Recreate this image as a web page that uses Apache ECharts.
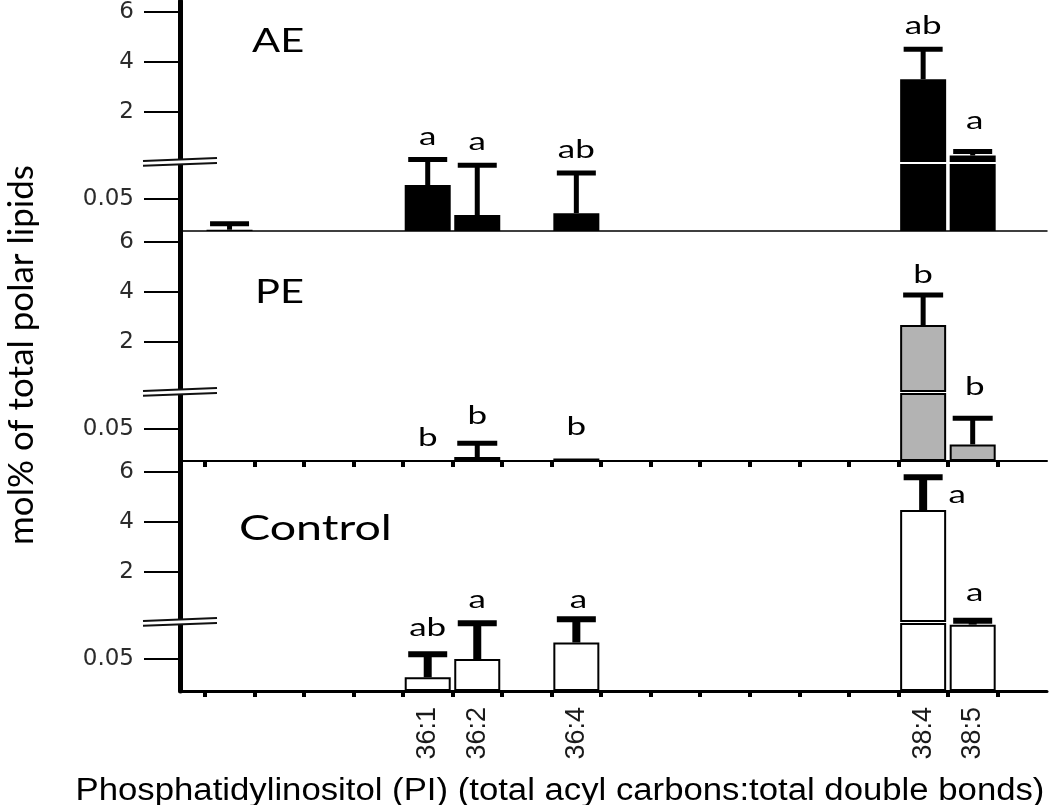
<!DOCTYPE html>
<html><head><meta charset="utf-8">
<script src="https://cdn.jsdelivr.net/npm/echarts@6/dist/echarts.min.js"></script>
<style>html,body{margin:0;padding:0;background:#fff}#c{width:1050px;height:805px}</style>
</head><body><div id="c"></div>
<script>
// ---------------- DATA ----------------
// category slots along the x axis (only some are labelled in the figure)
const categoryLabels = ['', '', '', '', '36:1', '36:2', '', '36:4', '', '', '', '', '', '', '38:4', '38:5'];
const panelNames = ['AE', 'PE', 'Control'];
// means (mol%) and top of error bar (mean + SD)
const aeMean  = [0.002, null, null, null, 0.072, 0.025, null, 0.028, null, null, null, null, null, null, 3.31, 0.26];
const aeErr   = [0.0115, null, null, null, 0.112, 0.103, null, 0.091, null, null, null, null, null, null, 4.51, 0.42];
const aeLetters = ['', '', '', '', 'a', 'a', '', 'ab', '', '', '', '', '', '', 'ab', 'a'];
const peMean  = [null, null, null, null, null, 0.0063, null, 0.004, null, null, null, null, null, null, 2.68, 0.026];
const peErr   = [null, null, null, null, null, 0.028, null, null, null, null, null, null, null, null, 3.88, 0.067];
const peLetters = ['', '', '', '', 'b', 'b', '', 'b', '', '', '', '', '', '', 'b', 'b'];
const ctlMean = [null, null, null, null, 0.0215, 0.050, null, 0.076, null, null, null, null, null, null, 4.48, 0.104];
const ctlErr  = [null, null, null, null, 0.0575, 0.106, null, 0.1124, null, null, null, null, null, null, 5.79, 0.110];
const ctlLetters = ['', '', '', '', 'ab', 'a', '', 'a', '', '', '', '', '', '', 'a', 'a'];
const yTicksLower = [0.05];
const yTicksUpper = [2, 4, 6];
const xTitle = 'Phosphatidylinositol (PI) (total acyl carbons:total double bonds)';
const yTitle = 'mol% of total polar lipids';

// ---------------- LAYOUT / STYLE ----------------
const L = {
  left: 180, right: 3, base: [231, 461, 691], lowerH: 67, gap: 2, panelH: 230,
  lowerMax: 0.105, upperMax: 6.44, xMax: 17.5
};
const barStyles = [
  {color: '#000', borderColor: '#000', borderWidth: 0},
  {color: '#b3b3b3', borderColor: '#000', borderWidth: 2},
  {color: '#fff', borderColor: '#000', borderWidth: 2}
];
const errStyles = [{stem: 5, capW: 5, cap: 39}, {stem: 5, capW: 5, cap: 40}, {stem: 8, capW: 6, cap: 39}];
const xLineW = [1.5, 2, 3];
// pixel nudges for significance letters [dx, dy(up)]
const letterNudge = [
  {15: [2, 8]},
  {5: [0, 4], 7: [0, 9], 14: [0, -3], 15: [2, 8]},
  {4: [0, 3], 7: [2, -4], 14: [34, -41], 15: [2, 5]}
];
// [left, baseline, fontSize, scaleX]
const panelLabelPos = [[252, 52, 32, 1.3], [255, 303, 32, 1.3], [239, 540, 34, 1.37]];
const LETTER_FS = 25, LETTER_SX = 1.4, LETTER_GAP = 15;

const means = [aeMean, peMean, ctlMean];
const errs = [aeErr, peErr, ctlErr];
const letters = [aeLetters, peLetters, ctlLetters];

const tickVals = categoryLabels.map((_, i) => i + 0.5).concat([categoryLabels.length + 0.5]);
const labelVals = categoryLabels.map((s, i) => s ? i + 1 : null).filter(v => v !== null);

const grids = [], xAxes = [], yAxes = [], series = [];
L.base.forEach((b, p) => {
  grids.push({left: L.left, right: L.right, top: b - L.lowerH, height: L.lowerH, outerBoundsMode: 'none'});
  grids.push({left: L.left, right: L.right, top: b - L.panelH, height: L.panelH - L.lowerH - L.gap, outerBoundsMode: 'none'});
  [0, 1].forEach(k => {
    const gi = p * 2 + k, lower = k === 0;
    xAxes.push({
      type: 'value', gridIndex: gi, min: 0, max: L.xMax, show: lower,
      axisLine: {show: lower, onZero: false, lineStyle: {color: '#000', width: xLineW[p]}},
      axisTick: {show: lower && p > 0, customValues: tickVals, length: 6, lineStyle: {color: '#000', width: 4}},
      axisLabel: {show: lower && p === 2, customValues: labelVals, rotate: 90, margin: 16,
        formatter: v => categoryLabels[Math.round(v) - 1] || '',
        fontFamily: 'Liberation Sans', fontSize: 27, color: '#1a1a1a'},
      splitLine: {show: false}
    });
    yAxes.push({
      type: 'value', gridIndex: gi, min: 0, max: lower ? L.lowerMax : L.upperMax,
      axisLine: {show: true, onZero: false, lineStyle: {color: '#000', width: 5}},
      axisTick: {show: true, customValues: lower ? yTicksLower : yTicksUpper, length: 36, lineStyle: {color: '#000', width: 2}},
      axisLabel: {show: true, customValues: lower ? yTicksLower : yTicksUpper, margin: 46,
        fontFamily: 'DejaVu Sans', fontSize: 23, color: '#2b2b2b', formatter: v => String(v)},
      splitLine: {show: false}
    });
  });

  const m = means[p], e = errs[p], lt = letters[p];
  const lowBars = [], upBars = [], lowErr = [], upErr = [], lowLet = [], upLet = [];
  m.forEach((v, i) => {
    const x = i + 1;
    if (v !== null) {
      lowBars.push([x, v]);
      if (v > L.lowerMax) upBars.push([x, v]);
    }
    const inUpper = v !== null && v > L.lowerMax;
    if (e[i] !== null) (inUpper ? upErr : lowErr).push([x, e[i], v === null ? 0 : v]);
    if (lt[i]) {
      const anchor = e[i] !== null ? e[i] : (v !== null ? v : 0);
      (inUpper ? upLet : lowLet).push([x, anchor, i]);
    }
  });
  const bs = barStyles[p];
  [[lowBars, 0], [upBars, 1]].forEach(([d, k]) => {
    series.push({type: 'bar', xAxisIndex: p * 2 + k, yAxisIndex: p * 2 + k, data: d, barWidth: 46, clip: true,
      itemStyle: bs, silent: true, animation: false});
  });
  const es = errStyles[p];
  const errRender = (params, api) => {
    const x = api.value(0), top = api.value(1), base = api.value(2);
    const p1 = api.coord([x, top]), p0 = api.coord([x, base]);
    return {type: 'group', children: [
      {type: 'line', shape: {x1: p0[0], y1: p0[1], x2: p1[0], y2: p1[1]}, style: {stroke: '#000', lineWidth: es.stem}},
      {type: 'line', shape: {x1: p1[0] - es.cap / 2, y1: p1[1], x2: p1[0] + es.cap / 2, y2: p1[1]}, style: {stroke: '#000', lineWidth: es.capW}}
    ]};
  };
  [[lowErr, 0], [upErr, 1]].forEach(([d, k]) => {
    series.push({type: 'custom', xAxisIndex: p * 2 + k, yAxisIndex: p * 2 + k, data: d, renderItem: errRender, z: 5, silent: true, animation: false});
  });
  const letRender = (params, api) => {
    const x = api.value(0), y = api.value(1), idx = api.value(2);
    const pt = api.coord([x, y]);
    const n = letterNudge[p][idx] || [0, 0];
    const baseline = pt[1] - LETTER_GAP - n[1];
    return {type: 'text', x: pt[0] + n[0], y: baseline - 0.32 * LETTER_FS, scaleX: LETTER_SX,
      style: {text: lt[idx], fontFamily: 'Lato', fontSize: LETTER_FS, fill: '#000',
        align: 'center', verticalAlign: 'middle', textAlign: 'center', textVerticalAlign: 'middle'}};
  };
  [[lowLet, 0], [upLet, 1]].forEach(([d, k]) => {
    series.push({type: 'custom', xAxisIndex: p * 2 + k, yAxisIndex: p * 2 + k, data: d, renderItem: letRender, z: 6, silent: true, animation: false});
  });
});

// decorations: axis breaks, panel names, axis titles
const graphic = [];
L.base.forEach((b, p) => {
  const a1 = [143, b - 70], a2 = [217, b - 73], c1 = [143, b - 65.3], c2 = [217, b - 68];
  graphic.push({type: 'polygon', z: 50, shape: {points: [a1, a2, c2, c1]}, style: {fill: '#fff'}});
  graphic.push({type: 'polyline', z: 51, shape: {points: [a1, a2]}, style: {stroke: '#111', lineWidth: 2, fill: null}});
  graphic.push({type: 'polyline', z: 51, shape: {points: [c1, c2]}, style: {stroke: '#111', lineWidth: 2, fill: null}});
  const pl = panelLabelPos[p];
  graphic.push({type: 'text', z: 52, x: pl[0], y: pl[1] - 0.32 * pl[2], scaleX: pl[3],
    style: {text: panelNames[p], fontFamily: 'Lato', fontSize: pl[2], fill: '#000',
      align: 'left', verticalAlign: 'middle', textAlign: 'left', textVerticalAlign: 'middle'}});
});
graphic.push({type: 'text', z: 52, x: 560, y: 791, scaleX: 1.12,
  style: {text: xTitle, fontFamily: 'Liberation Sans', fontSize: 31, fill: '#000',
    align: 'center', verticalAlign: 'middle', textAlign: 'center', textVerticalAlign: 'middle'}});
graphic.push({type: 'text', z: 52, x: 22, y: 355, rotation: Math.PI / 2,
  style: {text: yTitle, fontFamily: 'Lato', fontSize: 35, fill: '#000',
    align: 'center', verticalAlign: 'middle', textAlign: 'center', textVerticalAlign: 'middle'}});

const chart = echarts.init(document.getElementById('c'), null, {renderer: 'canvas'});
chart.setOption({
  animation: false, backgroundColor: '#fff',
  grid: grids, xAxis: xAxes, yAxis: yAxes, series: series, graphic: graphic
});
</script></body></html>
